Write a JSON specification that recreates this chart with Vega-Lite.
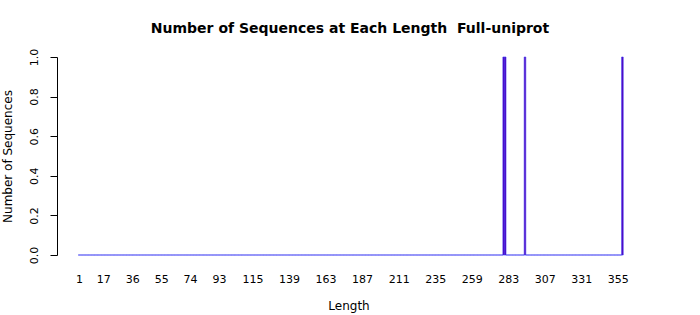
{
  "$schema": "https://vega.github.io/schema/vega-lite/v6.json",
  "autosize": "none",
  "width": 583,
  "height": 198,
  "padding": {"left": 57, "top": 57, "right": 60, "bottom": 60},
  "background": "white",
  "config": {"view": {"stroke": null}, "font": "DejaVu Sans"},
  "title": {"text": "Number of Sequences at Each Length \u00a0Full-uniprot", "fontSize": 14, "fontWeight": "bold", "font": "DejaVu Sans", "color": "black", "anchor": "middle", "offset": 12, "dx": 1.5},
  "data": {"values": [
{"length":1,"count":0},{"length":2,"count":0},{"length":3,"count":0},{"length":4,"count":0},{"length":5,"count":0},{"length":6,"count":0},{"length":7,"count":0},{"length":8,"count":0},{"length":9,"count":0},{"length":10,"count":0},
{"length":11,"count":0},{"length":12,"count":0},{"length":13,"count":0},{"length":14,"count":0},{"length":15,"count":0},{"length":16,"count":0},{"length":17,"count":0},{"length":18,"count":0},{"length":19,"count":0},{"length":20,"count":0},
{"length":21,"count":0},{"length":22,"count":0},{"length":23,"count":0},{"length":24,"count":0},{"length":25,"count":0},{"length":26,"count":0},{"length":27,"count":0},{"length":28,"count":0},{"length":29,"count":0},{"length":30,"count":0},
{"length":31,"count":0},{"length":32,"count":0},{"length":33,"count":0},{"length":34,"count":0},{"length":35,"count":0},{"length":36,"count":0},{"length":37,"count":0},{"length":38,"count":0},{"length":39,"count":0},{"length":40,"count":0},
{"length":41,"count":0},{"length":42,"count":0},{"length":43,"count":0},{"length":44,"count":0},{"length":45,"count":0},{"length":46,"count":0},{"length":47,"count":0},{"length":48,"count":0},{"length":49,"count":0},{"length":50,"count":0},
{"length":51,"count":0},{"length":52,"count":0},{"length":53,"count":0},{"length":54,"count":0},{"length":55,"count":0},{"length":56,"count":0},{"length":57,"count":0},{"length":58,"count":0},{"length":59,"count":0},{"length":60,"count":0},
{"length":61,"count":0},{"length":62,"count":0},{"length":63,"count":0},{"length":64,"count":0},{"length":65,"count":0},{"length":66,"count":0},{"length":67,"count":0},{"length":68,"count":0},{"length":69,"count":0},{"length":70,"count":0},
{"length":71,"count":0},{"length":72,"count":0},{"length":73,"count":0},{"length":74,"count":0},{"length":75,"count":0},{"length":76,"count":0},{"length":77,"count":0},{"length":78,"count":0},{"length":79,"count":0},{"length":80,"count":0},
{"length":81,"count":0},{"length":82,"count":0},{"length":83,"count":0},{"length":84,"count":0},{"length":85,"count":0},{"length":86,"count":0},{"length":87,"count":0},{"length":88,"count":0},{"length":89,"count":0},{"length":90,"count":0},
{"length":91,"count":0},{"length":92,"count":0},{"length":93,"count":0},{"length":94,"count":0},{"length":95,"count":0},{"length":96,"count":0},{"length":97,"count":0},{"length":98,"count":0},{"length":99,"count":0},{"length":100,"count":0},
{"length":101,"count":0},{"length":102,"count":0},{"length":103,"count":0},{"length":104,"count":0},{"length":105,"count":0},{"length":106,"count":0},{"length":107,"count":0},{"length":108,"count":0},{"length":109,"count":0},{"length":110,"count":0},
{"length":111,"count":0},{"length":112,"count":0},{"length":113,"count":0},{"length":114,"count":0},{"length":115,"count":0},{"length":116,"count":0},{"length":117,"count":0},{"length":118,"count":0},{"length":119,"count":0},{"length":120,"count":0},
{"length":121,"count":0},{"length":122,"count":0},{"length":123,"count":0},{"length":124,"count":0},{"length":125,"count":0},{"length":126,"count":0},{"length":127,"count":0},{"length":128,"count":0},{"length":129,"count":0},{"length":130,"count":0},
{"length":131,"count":0},{"length":132,"count":0},{"length":133,"count":0},{"length":134,"count":0},{"length":135,"count":0},{"length":136,"count":0},{"length":137,"count":0},{"length":138,"count":0},{"length":139,"count":0},{"length":140,"count":0},
{"length":141,"count":0},{"length":142,"count":0},{"length":143,"count":0},{"length":144,"count":0},{"length":145,"count":0},{"length":146,"count":0},{"length":147,"count":0},{"length":148,"count":0},{"length":149,"count":0},{"length":150,"count":0},
{"length":151,"count":0},{"length":152,"count":0},{"length":153,"count":0},{"length":154,"count":0},{"length":155,"count":0},{"length":156,"count":0},{"length":157,"count":0},{"length":158,"count":0},{"length":159,"count":0},{"length":160,"count":0},
{"length":161,"count":0},{"length":162,"count":0},{"length":163,"count":0},{"length":164,"count":0},{"length":165,"count":0},{"length":166,"count":0},{"length":167,"count":0},{"length":168,"count":0},{"length":169,"count":0},{"length":170,"count":0},
{"length":171,"count":0},{"length":172,"count":0},{"length":173,"count":0},{"length":174,"count":0},{"length":175,"count":0},{"length":176,"count":0},{"length":177,"count":0},{"length":178,"count":0},{"length":179,"count":0},{"length":180,"count":0},
{"length":181,"count":0},{"length":182,"count":0},{"length":183,"count":0},{"length":184,"count":0},{"length":185,"count":0},{"length":186,"count":0},{"length":187,"count":0},{"length":188,"count":0},{"length":189,"count":0},{"length":190,"count":0},
{"length":191,"count":0},{"length":192,"count":0},{"length":193,"count":0},{"length":194,"count":0},{"length":195,"count":0},{"length":196,"count":0},{"length":197,"count":0},{"length":198,"count":0},{"length":199,"count":0},{"length":200,"count":0},
{"length":201,"count":0},{"length":202,"count":0},{"length":203,"count":0},{"length":204,"count":0},{"length":205,"count":0},{"length":206,"count":0},{"length":207,"count":0},{"length":208,"count":0},{"length":209,"count":0},{"length":210,"count":0},
{"length":211,"count":0},{"length":212,"count":0},{"length":213,"count":0},{"length":214,"count":0},{"length":215,"count":0},{"length":216,"count":0},{"length":217,"count":0},{"length":218,"count":0},{"length":219,"count":0},{"length":220,"count":0},
{"length":221,"count":0},{"length":222,"count":0},{"length":223,"count":0},{"length":224,"count":0},{"length":225,"count":0},{"length":226,"count":0},{"length":227,"count":0},{"length":228,"count":0},{"length":229,"count":0},{"length":230,"count":0},
{"length":231,"count":0},{"length":232,"count":0},{"length":233,"count":0},{"length":234,"count":0},{"length":235,"count":0},{"length":236,"count":0},{"length":237,"count":0},{"length":238,"count":0},{"length":239,"count":0},{"length":240,"count":0},
{"length":241,"count":0},{"length":242,"count":0},{"length":243,"count":0},{"length":244,"count":0},{"length":245,"count":0},{"length":246,"count":0},{"length":247,"count":0},{"length":248,"count":0},{"length":249,"count":0},{"length":250,"count":0},
{"length":251,"count":0},{"length":252,"count":0},{"length":253,"count":0},{"length":254,"count":0},{"length":255,"count":0},{"length":256,"count":0},{"length":257,"count":0},{"length":258,"count":0},{"length":259,"count":0},{"length":260,"count":0},
{"length":261,"count":0},{"length":262,"count":0},{"length":263,"count":0},{"length":264,"count":0},{"length":265,"count":0},{"length":266,"count":0},{"length":267,"count":0},{"length":268,"count":0},{"length":269,"count":0},{"length":270,"count":0},
{"length":271,"count":0},{"length":272,"count":0},{"length":273,"count":0},{"length":274,"count":0},{"length":275,"count":0},{"length":276,"count":0},{"length":277,"count":0},{"length":278,"count":0},{"length":279,"count":0},{"length":280,"count":1},
{"length":281,"count":1},{"length":282,"count":0},{"length":283,"count":0},{"length":284,"count":0},{"length":285,"count":0},{"length":286,"count":0},{"length":287,"count":0},{"length":288,"count":0},{"length":289,"count":0},{"length":290,"count":0},
{"length":291,"count":0},{"length":292,"count":0},{"length":293,"count":0},{"length":294,"count":1},{"length":295,"count":0},{"length":296,"count":0},{"length":297,"count":0},{"length":298,"count":0},{"length":299,"count":0},{"length":300,"count":0},
{"length":301,"count":0},{"length":302,"count":0},{"length":303,"count":0},{"length":304,"count":0},{"length":305,"count":0},{"length":306,"count":0},{"length":307,"count":0},{"length":308,"count":0},{"length":309,"count":0},{"length":310,"count":0},
{"length":311,"count":0},{"length":312,"count":0},{"length":313,"count":0},{"length":314,"count":0},{"length":315,"count":0},{"length":316,"count":0},{"length":317,"count":0},{"length":318,"count":0},{"length":319,"count":0},{"length":320,"count":0},
{"length":321,"count":0},{"length":322,"count":0},{"length":323,"count":0},{"length":324,"count":0},{"length":325,"count":0},{"length":326,"count":0},{"length":327,"count":0},{"length":328,"count":0},{"length":329,"count":0},{"length":330,"count":0},
{"length":331,"count":0},{"length":332,"count":0},{"length":333,"count":0},{"length":334,"count":0},{"length":335,"count":0},{"length":336,"count":0},{"length":337,"count":0},{"length":338,"count":0},{"length":339,"count":0},{"length":340,"count":0},
{"length":341,"count":0},{"length":342,"count":0},{"length":343,"count":0},{"length":344,"count":0},{"length":345,"count":0},{"length":346,"count":0},{"length":347,"count":0},{"length":348,"count":0},{"length":349,"count":0},{"length":350,"count":0},
{"length":351,"count":0},{"length":352,"count":0},{"length":353,"count":0},{"length":354,"count":0},{"length":355,"count":0},{"length":356,"count":0},{"length":357,"count":0},{"length":358,"count":1}
  ]},
  "mark": {"type": "bar", "size": 1.6, "fill": "#5a00b8", "stroke": "#3434f4", "strokeWidth": 0.6},
  "encoding": {
    "x": {
      "field": "length", "type": "quantitative",
      "scale": {"domain": [-13.43, 369.55], "nice": false, "zero": false, "padding": 0},
      "axis": {
        "values": [1,17,36,55,74,93,115,139,163,187,211,235,259,283,307,331,355],
        "domain": false, "ticks": false, "grid": false,
        "labelFont": "DejaVu Sans", "labelFontSize": 11, "labelColor": "black",
        "labelPadding": 18, "labelFlush": false, "labelOverlap": false,
        "title": "Length", "titleFont": "DejaVu Sans", "titleFontSize": 12, "titleFontWeight": "normal", "titleColor": "black", "titlePadding": 16
      }
    },
    "y": {
      "field": "count", "type": "quantitative",
      "scale": {"domain": [0, 1], "nice": false},
      "axis": {
        "values": [0, 0.2, 0.4, 0.6, 0.8, 1], "format": ".1f",
        "grid": false, "domainColor": "black", "tickColor": "black", "tickSize": 7,
        "labelAngle": -90, "labelAlign": "center", "labelBaseline": "bottom",
        "labelFont": "DejaVu Sans", "labelFontSize": 11, "labelColor": "black", "labelPadding": 11,
        "title": "Number of Sequences", "titleFont": "DejaVu Sans", "titleFontSize": 12, "titleFontWeight": "normal", "titleColor": "black", "titlePadding": 14
      }
    }
  }
}
